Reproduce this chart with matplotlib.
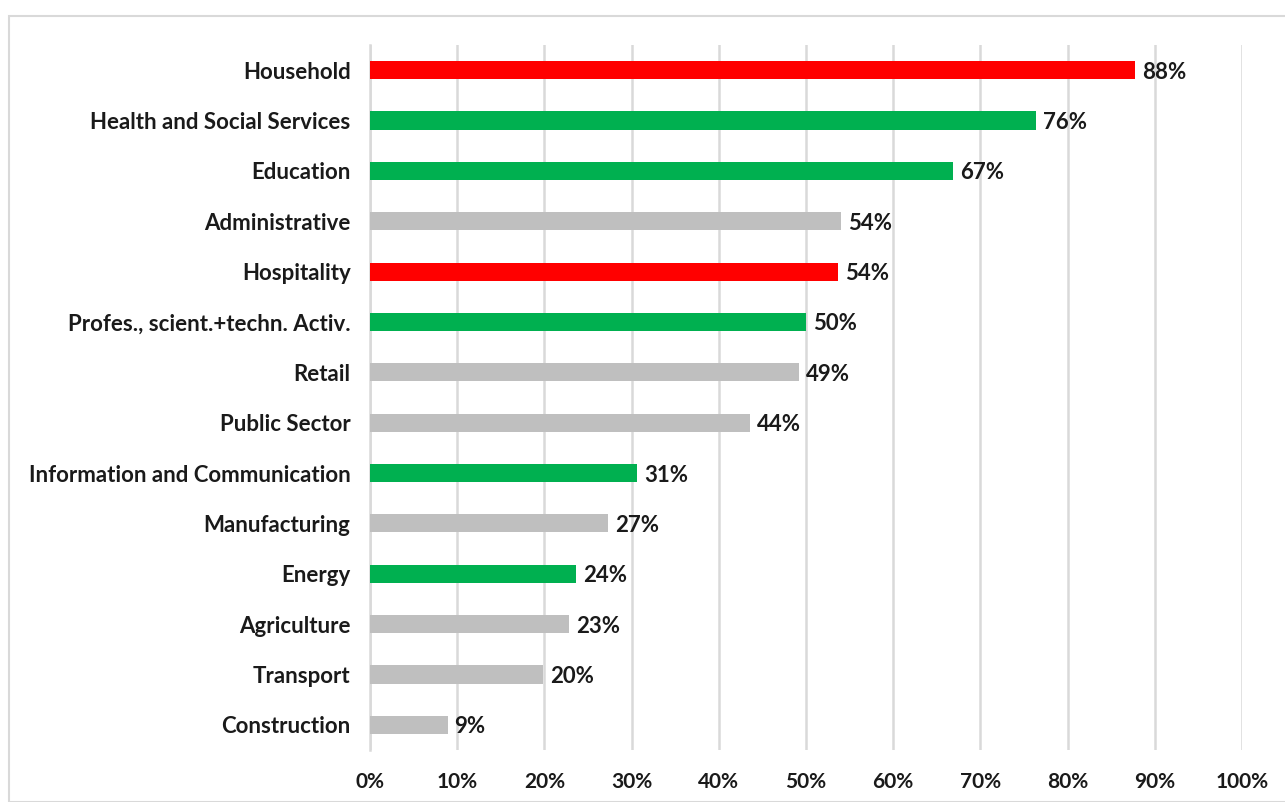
import matplotlib
matplotlib.use("Agg")
import matplotlib.pyplot as plt
from matplotlib.patches import Rectangle

categories = ["Household", "Health and Social Services", "Education", "Administrative",
              "Hospitality", "Profes., scient.+techn. Activ.", "Retail", "Public Sector",
              "Information and Communication", "Manufacturing", "Energy", "Agriculture",
              "Transport", "Construction"]
values = [87.7, 76.4, 66.9, 54.0, 53.7, 50.0, 49.2, 43.6, 30.6, 27.3, 23.6, 22.8, 19.8, 8.9]
labels = ["88%", "76%", "67%", "54%", "54%", "50%", "49%", "44%", "31%", "27%", "24%", "23%", "20%", "9%"]
groups = ["red", "green", "green", "gray", "red", "green", "gray", "gray", "green", "gray",
          "green", "gray", "gray", "gray"]
xticks = [0, 10, 20, 30, 40, 50, 60, 70, 80, 90, 100]
xticklabels = [f"{t}%" for t in xticks]

colors = {"red": "#FF0000", "green": "#00B050", "gray": "#BFBFBF"}
plt.rcParams['font.family'] = ['Lato', 'DejaVu Sans']

W, H = 1285, 802
fig = plt.figure(figsize=(W / 100, H / 100), dpi=100)
fig.patches.append(Rectangle((9 / W, 0), 1.2, 1 - 16 / H, transform=fig.transFigure,
                             fill=False, edgecolor="#D9D9D9", linewidth=1.5))
ax = fig.add_axes([370 / W, 1 - 750 / H, (1242 - 370) / W, (750 - 45) / H])

ypos = list(range(len(categories)))
ax.barh(ypos, values, height=0.36, color=[colors[g] for g in groups], zorder=3)
for y, v, l in zip(ypos, values, labels):
    ax.text(v + 0.8, y + 0.04, l, va="center", ha="left", fontsize=16, fontweight="bold", color="#1a1a1a")

ax.set_xlim(0, 100)
ax.set_ylim(len(categories) - 0.5, -0.5)
ax.set_yticks(ypos)
ax.set_yticklabels(categories, fontsize=16, fontweight="bold", color="#1a1a1a")
ax.set_xticks(xticks)
ax.set_xticklabels(xticklabels, fontsize=15, fontweight="bold", color="#1a1a1a")
ax.tick_params(axis="both", length=0)
ax.tick_params(axis="y", pad=14)
ax.tick_params(axis="x", pad=16)
ax.grid(axis="x", color="#D9D9D9", linewidth=1.8, zorder=0)
for s in ["top", "right", "bottom"]:
    ax.spines[s].set_visible(False)
ax.spines["left"].set_color("#D9D9D9")
ax.spines["left"].set_linewidth(1.8)

fig.savefig("out.png", dpi=100)
